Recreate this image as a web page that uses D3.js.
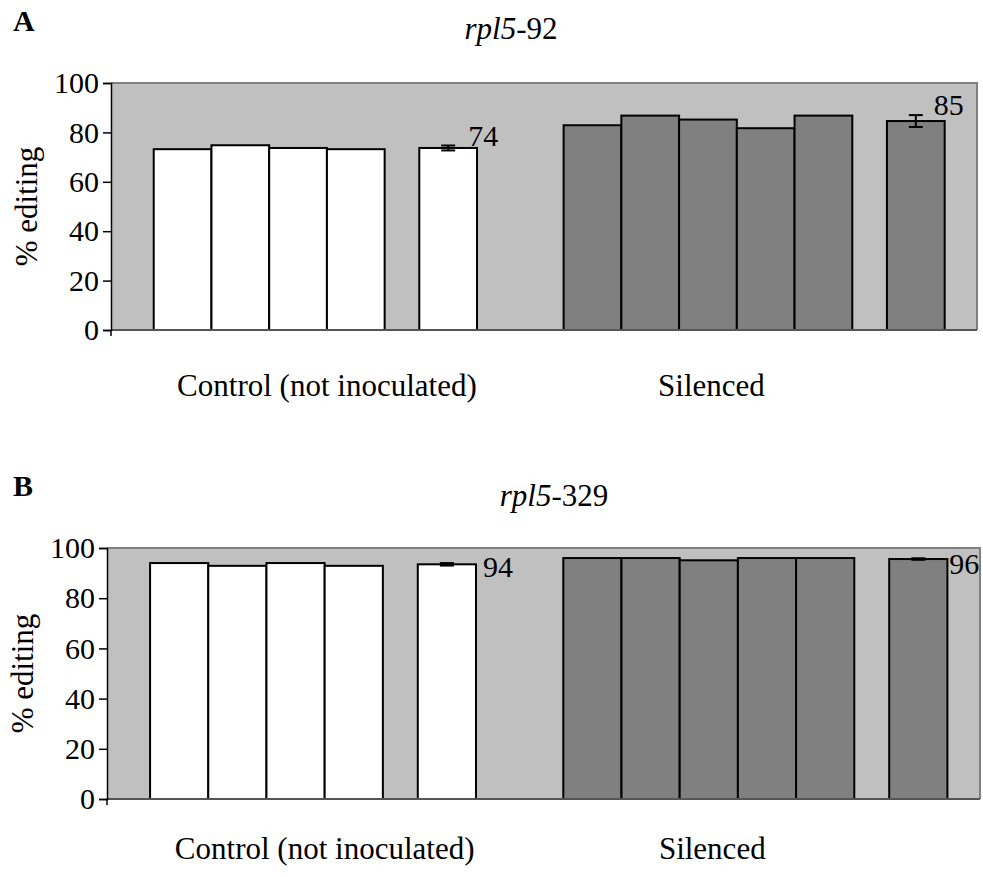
<!DOCTYPE html>
<html>
<head>
<meta charset="utf-8">
<script src="https://cdn.jsdelivr.net/npm/d3@7/dist/d3.min.js"></script>
<style>
  html, body { margin: 0; padding: 0; background: #fff; }
  svg text { font-family: "Times New Roman", "Liberation Serif", "DejaVu Serif", serif; fill: #000; }
</style>
</head>
<body>
<svg id="chart" width="983" height="877"></svg>
<script>
// ---------- DATA ----------
const panelLetters = ["A", "B"];
const geneNames = ["rpl5", "rpl5"];
const siteSuffixes = ["-92", "-329"];
const groupNames = ["Control (not inoculated)", "Silenced"];
const yTicks = [0, 20, 40, 60, 80, 100];

// Panel A: rpl5-92
const aControl = [73.2, 74.8, 73.7, 73.2];
const aSilenced = [82.9, 86.8, 85.2, 81.7, 86.8];
const aMeans = [73.7, 84.6];
const aErrors = [1.0, 2.4];
const aMeanLabels = ["74", "85"];

// Panel B: rpl5-329
const bControl = [94.0, 92.9, 94.0, 92.9];
const bSilenced = [96.0, 96.0, 95.1, 96.0, 96.0];
const bMeans = [93.5, 95.6];
const bErrors = [0.5, 0.3];
const bMeanLabels = ["94", "96"];

// ---------- LAYOUT ----------
const layouts = [
  { left: 111, right: 977, top: 83, bottom: 330, letterY: 31, titleX: 511, titleY: 39, catY: 396,
    labelDx: [20, 18], labelDy: [1, 0], labelMode: "err" },
  { left: 107, right: 980, top: 548, bottom: 799, letterY: 496, titleX: 554, titleY: 506, catY: 859,
    labelDx: [36, 31], labelDy: [13, 15], labelMode: "val" }
];
const slot = { leftPad: 0.74, innerGap: 0.6, groupGap: 1.5, rightPad: 0.56 };
const catLabelSlots = [3.74, 10.4];
const FS = 31;
const TICK_FS = 30;

const panelsData = [
  { letter: panelLetters[0], gene: geneNames[0], suffix: siteSuffixes[0],
    groups: [aControl, aSilenced], means: aMeans, errs: aErrors, labels: aMeanLabels },
  { letter: panelLetters[1], gene: geneNames[1], suffix: siteSuffixes[1],
    groups: [bControl, bSilenced], means: bMeans, errs: bErrors, labels: bMeanLabels }
];
const fills = ["#ffffff", "#808080"];

const svg = d3.select("#chart");

panelsData.forEach((p, pi) => {
  const L = layouts[pi];
  const bars = [];
  let pos = slot.leftPad;
  const meanBars = [];
  p.groups.forEach((vals, gi) => {
    vals.forEach((v) => { bars.push({ v, g: gi, x0: pos }); pos += 1; });
    pos += slot.innerGap;
    meanBars.push({ v: p.means[gi], e: p.errs[gi], label: p.labels[gi], g: gi, x0: pos });
    pos += 1;
    if (gi < p.groups.length - 1) pos += slot.groupGap;
  });
  const total = pos + slot.rightPad;

  const x = d3.scaleLinear().domain([0, total]).range([L.left, L.right]);
  const y = d3.scaleLinear().domain([0, 100]).range([L.bottom, L.top]);
  const g = svg.append("g");

  g.append("rect")
    .attr("x", x(0)).attr("y", y(100))
    .attr("width", x(total) - x(0)).attr("height", y(0) - y(100))
    .attr("fill", "#c0c0c0");
  g.append("path")
    .attr("d", `M${x(0)},${y(100)}H${x(total)}V${y(0)}`)
    .attr("fill", "none").attr("stroke", "#808080").attr("stroke-width", 2);

  const all = bars.concat(meanBars);
  g.selectAll("rect.bar").data(all).enter().append("rect")
    .attr("class", "bar")
    .attr("x", d => x(d.x0)).attr("y", d => y(d.v))
    .attr("width", d => x(d.x0 + 1) - x(d.x0))
    .attr("height", d => y(0) - y(d.v))
    .attr("fill", d => fills[d.g])
    .attr("stroke", "#000").attr("stroke-width", 2);

  meanBars.forEach(m => {
    const cx = x(m.x0 + 0.5);
    const eg = g.append("g").attr("stroke", "#000").attr("stroke-width", 2);
    eg.append("line").attr("x1", cx).attr("x2", cx).attr("y1", y(m.v + m.e)).attr("y2", y(m.v - m.e));
    eg.append("line").attr("x1", cx - 7).attr("x2", cx + 7).attr("y1", y(m.v + m.e)).attr("y2", y(m.v + m.e));
    eg.append("line").attr("x1", cx - 7).attr("x2", cx + 7).attr("y1", y(m.v - m.e)).attr("y2", y(m.v - m.e));
  });

  meanBars.forEach((m, i) => {
    const cx = x(m.x0 + 0.5);
    const by = L.labelMode === "err" ? y(m.v + m.e) + L.labelDy[i] : y(m.v) + L.labelDy[i];
    g.append("text").attr("x", cx + L.labelDx[i]).attr("y", by)
      .attr("font-size", TICK_FS).text(m.label);
  });

  g.append("line")
    .attr("x1", x(0)).attr("x2", x(total)).attr("y1", y(0)).attr("y2", y(0))
    .attr("stroke", "#555").attr("stroke-width", 2);
  g.append("line")
    .attr("x1", x(0)).attr("x2", x(0)).attr("y1", y(0)).attr("y2", y(0) + 6)
    .attr("stroke", "#000").attr("stroke-width", 1.5);

  const yAxis = d3.axisLeft(y).tickValues(yTicks).tickSize(8).tickPadding(4).tickFormat(d3.format("d"));
  const ya = g.append("g").attr("transform", `translate(${x(0)},0)`).call(yAxis);
  ya.select(".domain").attr("stroke", "#000").attr("stroke-width", 1.5);
  ya.selectAll(".tick line").attr("stroke", "#000").attr("stroke-width", 1.5);
  ya.selectAll(".tick text")
    .attr("font-size", TICK_FS)
    .attr("font-family", '"Times New Roman", "Liberation Serif", serif')
    .attr("fill", "#000");

  g.append("text")
    .attr("transform", `translate(${L.left - 74},${(y(0) + y(100)) / 2}) rotate(-90)`)
    .attr("text-anchor", "middle").attr("font-size", FS)
    .text("% editing");

  groupNames.forEach((name, i) => {
    g.append("text").attr("x", x(catLabelSlots[i])).attr("y", L.catY)
      .attr("text-anchor", "middle").attr("font-size", FS).text(name);
  });

  g.append("text").attr("x", 13).attr("y", L.letterY)
    .attr("font-size", TICK_FS).attr("font-weight", "bold").text(p.letter);

  const t = g.append("text").attr("x", L.titleX).attr("y", L.titleY)
    .attr("text-anchor", "middle").attr("font-size", FS);
  t.append("tspan").attr("font-style", "italic").text(p.gene);
  t.append("tspan").text(p.suffix);
});
</script>
</body>
</html>
